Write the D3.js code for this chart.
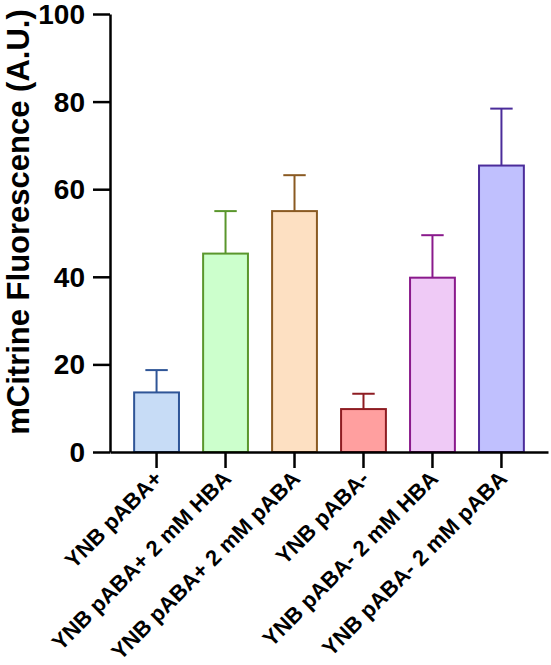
<!DOCTYPE html>
<html>
<head>
<meta charset="utf-8">
<script src="https://cdn.jsdelivr.net/npm/d3@7"></script>
<style>
  html, body { margin: 0; padding: 0; background: #fff; }
  svg { display: block; font-family: "Liberation Sans", Arial, Helvetica, sans-serif; }
</style>
</head>
<body>
<svg id="chart" width="551" height="665"></svg>
<script>
const categories = [
  "YNB pABA+",
  "YNB pABA+ 2 mM HBA",
  "YNB pABA+ 2 mM pABA",
  "YNB pABA-",
  "YNB pABA- 2 mM HBA",
  "YNB pABA- 2 mM pABA"
];
const means = [13.6, 45.3, 55.0, 9.8, 39.8, 65.4];
const errors = [5.1, 9.7, 8.2, 3.5, 9.7, 13.0];
const fills = ["#c7dcf6", "#ccffcc", "#fde0c2", "#ff9f9f", "#efcaf6", "#c0c0fe"];
const strokes = ["#2f5597", "#5a962c", "#8a5a22", "#8e1c22", "#8a1a8c", "#4b2c9a"];
const yTicks = [0, 20, 40, 60, 80, 100];
const yTitle = "mCitrine Fluorescence (A.U.)";

const svg = d3.select("#chart");
const mLeft = 110, mRight = 548, mTop = 14, mBottom = 452;

const x = d3.scaleBand().domain(categories).range([mLeft, mRight])
  .paddingInner(0.35).paddingOuter(0.35);
const y = d3.scaleLinear().domain([0, 100]).range([mBottom, mTop]);

// bars
const g = svg.append("g");
g.selectAll("rect.bar").data(categories).join("rect")
  .attr("class", "bar")
  .attr("x", d => x(d))
  .attr("y", (d, i) => y(means[i]))
  .attr("width", x.bandwidth())
  .attr("height", (d, i) => y(0) - y(means[i]))
  .attr("fill", (d, i) => fills[i])
  .attr("stroke", (d, i) => strokes[i])
  .attr("stroke-width", 2);

// error bars
const capHalf = x.bandwidth() / 4;
categories.forEach((c, i) => {
  const cx = x(c) + x.bandwidth() / 2;
  g.append("line")
    .attr("x1", cx).attr("x2", cx)
    .attr("y1", y(means[i])).attr("y2", y(means[i] + errors[i]))
    .attr("stroke", strokes[i]).attr("stroke-width", 2);
  g.append("line")
    .attr("x1", cx - capHalf).attr("x2", cx + capHalf)
    .attr("y1", y(means[i] + errors[i])).attr("y2", y(means[i] + errors[i]))
    .attr("stroke", strokes[i]).attr("stroke-width", 2);
});

// y axis
const yAxis = svg.append("g")
  .attr("transform", `translate(${mLeft},0)`)
  .call(d3.axisLeft(y).tickValues(yTicks).tickSize(17).tickPadding(8).tickSizeOuter(0));
yAxis.select(".domain").attr("stroke", "#000").attr("stroke-width", 2.5);
yAxis.selectAll(".tick line").attr("stroke", "#000").attr("stroke-width", 2.5);
yAxis.selectAll(".tick text")
  .attr("font-size", 28).attr("font-weight", "bold").attr("fill", "#000")
  .attr("font-family", "'Liberation Sans', Arial, sans-serif")
  .attr("dy", "0.34em");

// x axis
const xAxis = svg.append("g")
  .attr("transform", `translate(0,${mBottom})`)
  .call(d3.axisBottom(x).tickSize(16).tickSizeOuter(0));
xAxis.select(".domain").attr("stroke", "#000").attr("stroke-width", 2.5);
xAxis.selectAll(".tick line").attr("stroke", "#000").attr("stroke-width", 2.5);
xAxis.selectAll(".tick text")
  .attr("font-size", 22).attr("font-weight", "bold").attr("fill", "#000")
  .attr("font-family", "'Liberation Sans', Arial, sans-serif")
  .attr("text-anchor", "end")
  .attr("dy", 0)
  .attr("y", 0)
  .attr("transform", "translate(7,28) rotate(-45)");

// y title
svg.append("text")
  .attr("transform", `translate(29,222) rotate(-90)`)
  .attr("text-anchor", "middle")
  .attr("font-size", 31).attr("font-weight", "bold").attr("fill", "#000")
  .text(yTitle);
</script>
</body>
</html>
